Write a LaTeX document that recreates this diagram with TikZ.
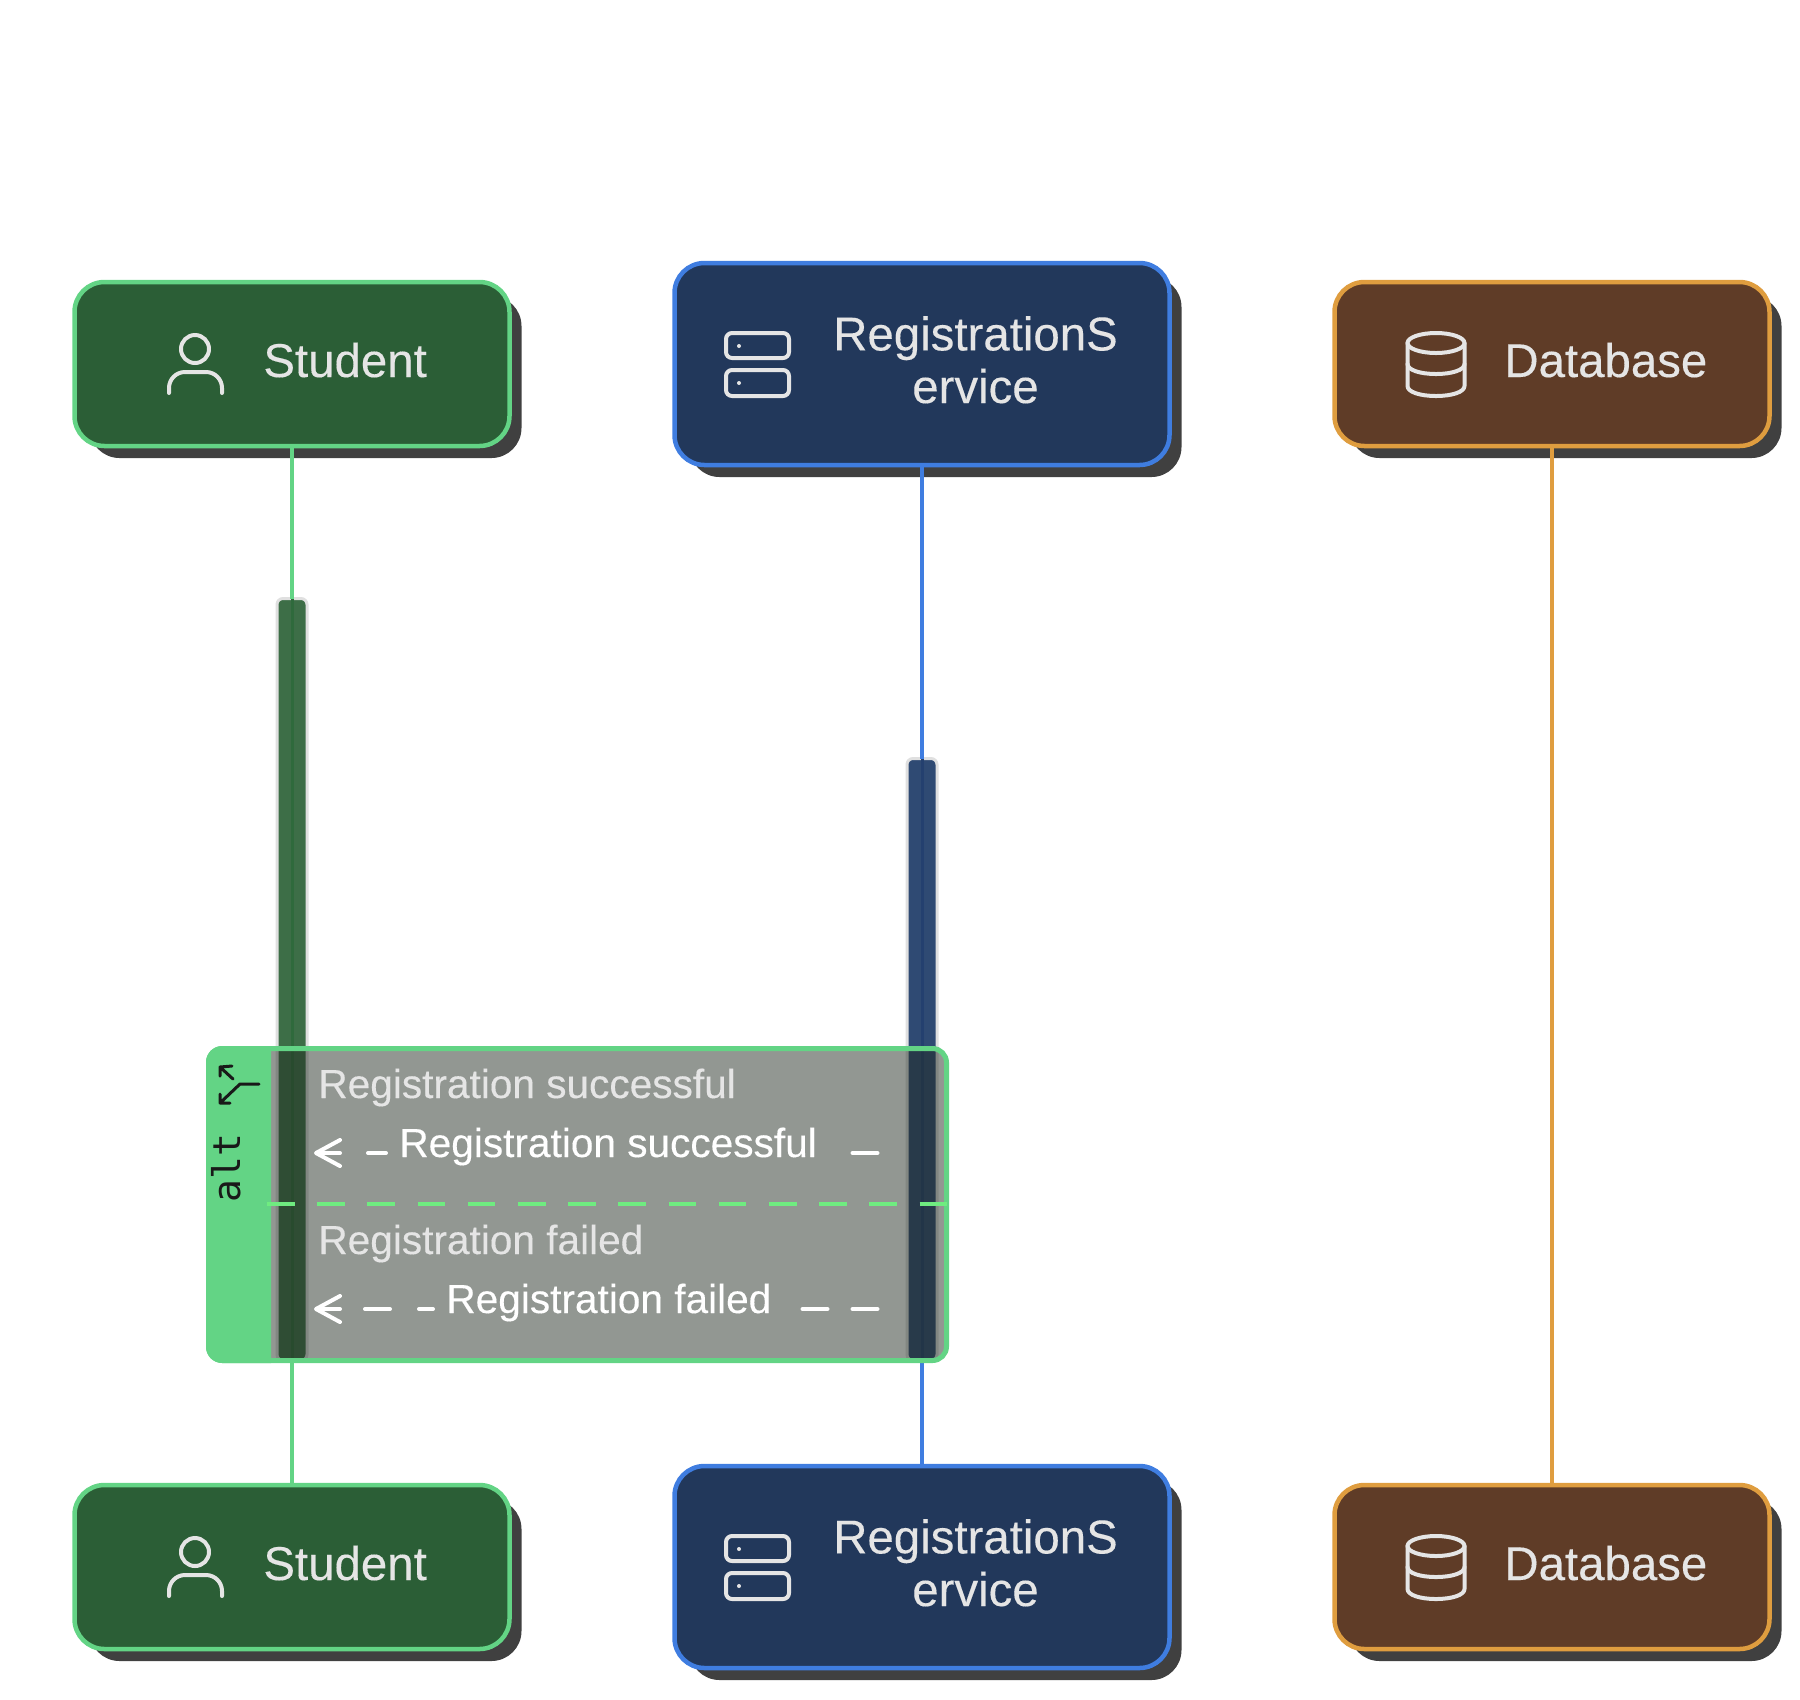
\documentclass[tikz,border=0pt]{standalone}
\usepackage{fontspec}
\setmainfont{Liberation Sans}[FakeBold=0.25]
\newfontfamily\altfont{DejaVu Sans Mono}
\usetikzlibrary{arrows.meta}
\definecolor{gstroke}{HTML}{63D485}
\definecolor{gfill}{HTML}{2B5E36}
\definecolor{gact}{HTML}{3D6E47}
\definecolor{gmid}{HTML}{2F6A3C}
\definecolor{bstroke}{HTML}{3F7DE0}
\definecolor{bfill}{HTML}{22385B}
\definecolor{bact}{HTML}{2F4A73}
\definecolor{bmid}{HTML}{24406F}
\definecolor{ostroke}{HTML}{DF9D3F}
\definecolor{ofill}{HTML}{5F3C27}
\definecolor{shadowc}{HTML}{404040}
\definecolor{txt}{HTML}{E5E5E5}
\definecolor{overlayc}{HTML}{212B21}
\definecolor{divc}{HTML}{6FEC80}
\definecolor{actborder}{HTML}{E0E0E0}
\tikzset{
  actorbox/.style={rectangle,rounded corners=15pt,line width=2.25pt,inner sep=0pt,outer sep=0pt},
  wide/.style={minimum width=217.5pt,minimum height=82pt},
  big/.style={minimum width=247.5pt,minimum height=101pt},
  shadowbox/.style={rectangle,rounded corners=15pt,inner sep=0pt,outer sep=0pt,fill=shadowc},
  shadowwide/.style={shadowbox,minimum width=216pt,minimum height=81pt},
  shadowbig/.style={shadowbox,minimum width=246pt,minimum height=100pt},
  title/.style={text=txt,inner sep=0pt,font=\fontsize{23.7}{26.3}\selectfont},
  lifeline/.style={line width=1.75pt},
  actbar/.style={rectangle,rounded corners=3pt,draw=actborder,line width=1.5pt,minimum width=15pt,inner sep=0pt,outer sep=0pt},
  iconline/.style={draw=txt,line width=2pt,line cap=round,line join=round},
  lbl/.style={text=txt,inner sep=0pt,anchor=base west,font=\fontsize{20.3}{24}\selectfont},
  msgtext/.style={text=white,inner sep=0pt,anchor=base west,font=\fontsize{20.3}{24}\selectfont},
  msgline/.style={draw=white,line width=2pt,line cap=round,-{Straight Barb[length=12pt,width=13pt,line cap=round,line join=round]}},
  pics/personicon/.style={code={
    \draw[iconline] (195,349) circle[radius=14];
    \draw[iconline,rounded corners=8pt] (169,393) -- (169,372) -- (222,372) -- (222,393);
  }},
  pics/servericon/.style={code={
    \draw[iconline,rounded corners=3pt] (726,333) rectangle (789,358);
    \draw[iconline,rounded corners=3pt] (726,370) rectangle (789,396);
    \fill[txt] (739,346) circle[radius=2];
    \fill[txt] (739,383) circle[radius=2];
  }},
  pics/dbicon/.style={code={
    \draw[iconline] (1436,343) ellipse[x radius=28.5,y radius=10];
    \draw[iconline] (1407.5,343) -- (1407.5,386) .. controls (1407.5,392) and (1420,396) .. (1436,396) .. controls (1452,396) and (1464.5,392) .. (1464.5,386) -- (1464.5,343);
    \draw[iconline] (1407.5,364) .. controls (1407.5,370) and (1420,374) .. (1436,374) .. controls (1452,374) and (1464.5,370) .. (1464.5,364);
  }},
}
\begin{document}
\begin{tikzpicture}[x=0.5pt,y=-0.5pt]
\useasboundingbox (0,0) rectangle (1800,1699);
% shadows
\node[shadowwide] (ss1) at (305.5,377) {};
\node[shadowbig] (ss2) at (935.5,377) {};
\node[shadowwide] (ss3) at (1565.5,377) {};
\node[shadowwide] (ss4) at (305.5,1580) {};
\node[shadowbig] (ss5) at (935.5,1580) {};
\node[shadowwide] (ss6) at (1565.5,1580) {};
% actors
\node[actorbox,wide,fill=gfill,draw=gstroke] (studentTop) at (292,364) {};
\node[actorbox,big,fill=bfill,draw=bstroke] (serviceTop) at (922,364) {};
\node[actorbox,wide,fill=ofill,draw=ostroke] (dbTop) at (1552,364) {};
\node[actorbox,wide,fill=gfill,draw=gstroke] (studentBot) at (292,1567) {};
\node[actorbox,big,fill=bfill,draw=bstroke] (serviceBot) at (922,1567) {};
\node[actorbox,wide,fill=ofill,draw=ostroke] (dbBot) at (1552,1567) {};
% activations
\node[actbar,fill=gact,minimum height=381pt] (actStudent) at (292,979.5) {};
\node[actbar,fill=bact,minimum height=301pt] (actService) at (922,1059.5) {};
\draw[gmid,line width=1.5pt] (actStudent.north) -- (actStudent.south);
\draw[bmid,line width=1.5pt] (actService.north) -- (actService.south);
% lifelines
\draw[lifeline,draw=gstroke] (studentTop.south) -- (actStudent.north);
\draw[lifeline,draw=gstroke] (actStudent.south) -- (studentBot.north);
\draw[lifeline,draw=bstroke] (serviceTop.south) -- (actService.north);
\draw[lifeline,draw=bstroke] (actService.south) -- (serviceBot.north);
\draw[lifeline,draw=ostroke] (dbTop.south) -- (dbBot.north);
% alt frame
\node[rectangle,rounded corners=7pt,minimum width=369pt,minimum height=156pt,inner sep=0pt,outer sep=0pt,line width=2.5pt,draw=gstroke,fill=overlayc,fill opacity=.49] (altFrame) at (577.5,1204.5) {};
\fill[gstroke] (271,1046) [rounded corners=8pt] -- (206,1046) -- (206,1363) [sharp corners] -- (271,1363) -- cycle;
\node[rotate=90,anchor=base west,inner sep=0pt,text=black!90,font=\altfont\fontsize{19}{22}\selectfont] (altLabel) at (240,1203) {alt};
\draw[black!90,line width=1.5pt,line cap=round,line join=round] (259,1084) -- (240,1084) -- (220,1103) (220,1094) -- (220,1103) -- (230,1103) (233,1079) -- (220,1067) (220,1076) -- (220,1067) -- (232,1066);
% divider
\coordinate (divL) at (267,1204);
\coordinate (divR) at (948,1204);
\draw[divc,line width=1.75pt,dash pattern=on 13.75pt off 11.35pt] (divL) -- (divR);
% messages
\coordinate (m1s) at (877.5,1153); \coordinate (m1t) at (314,1153);
\coordinate (m2s) at (877.5,1309); \coordinate (m2t) at (314,1309);
\draw[msgline,dash pattern=on 12.5pt off 233.25pt on 9pt off 14pt on 20pt] (m1s) -- (m1t);
\draw[msgline,dash pattern=on 12.5pt off 12.5pt on 12.5pt off 184.75pt on 7pt off 14.5pt on 12.5pt off 12.5pt on 20pt] (m2s) -- (m2t);
\node[lbl] (lab1) at (318,1098) {Registration successful};
\node[msgtext] (msg1) at (399,1157) {Registration successful};
\node[lbl] (lab2) at (318,1254) {Registration failed};
\node[msgtext] (msg2) at (446,1313) {Registration failed};
% titles
\node[title,anchor=base west] (t1) at (263,377) {Student};
\node[title,anchor=base,align=center] (t2) at (975.5,403) {RegistrationS\\ervice};
\node[title,anchor=base west] (t3) at (1504,377) {Database};
\node[title,anchor=base west] (t4) at (263,1580) {Student};
\node[title,anchor=base,align=center] (t5) at (975.5,1606) {RegistrationS\\ervice};
\node[title,anchor=base west] (t6) at (1504,1580) {Database};
% icons
\pic at (0,0) {personicon};
\pic at (0,0) {servericon};
\pic at (0,0) {dbicon};
\pic at (0,1203) {personicon};
\pic at (0,1203) {servericon};
\pic at (0,1203) {dbicon};
\end{tikzpicture}
\end{document}
